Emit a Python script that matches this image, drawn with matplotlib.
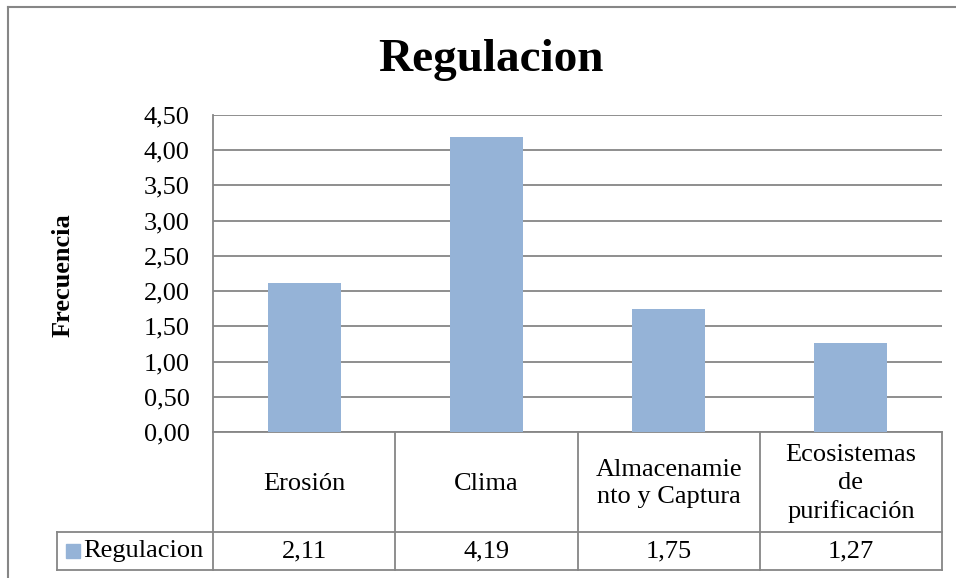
import matplotlib
matplotlib.use("Agg")
import matplotlib.pyplot as plt
from matplotlib.lines import Line2D
from matplotlib.patches import Rectangle

categories = ["Erosión", "Clima", "Almacenamie\nnto y Captura", "Ecosistemas\nde\npurificación"]
values = [2.11, 4.19, 1.75, 1.27]
value_labels = ["2,11", "4,19", "1,75", "1,27"]
series_name = "Regulacion"
title = "Regulacion"
ylabel = "Frecuencia"
yticks = [0.0, 0.5, 1.0, 1.5, 2.0, 2.5, 3.0, 3.5, 4.0, 4.5]

W, H = 956, 578
BAR = "#95B3D7"
GRID = "#868686"
FONT = "Liberation Serif"
FS = 19

fig = plt.figure(figsize=(W / 100, H / 100), dpi=100)
plt.rcParams['font.family'] = [FONT, 'DejaVu Serif']

def fx(px):
    return px / W

def fy(py):
    return 1 - py / H

# plot area in pixels
L, R, T, B = 213, 942, 115, 432
ax = fig.add_axes([fx(L), fy(B), fx(R - L), (B - T) / H])
ax.bar(range(len(values)), values, width=0.4, color=BAR, zorder=3)
ax.set_xlim(-0.5, len(values) - 0.5)
ax.set_ylim(0, 4.5)
ax.set_yticks(yticks)
ax.set_yticklabels([f"{t:.2f}".replace(".", ",") for t in yticks], fontsize=FS, family=FONT)
ax.tick_params(axis="y", length=0, pad=17)
ax.set_xticks([])
ax.grid(axis="y", color=GRID, linewidth=1.3, zorder=0)
for s in ["top", "right", "bottom"]:
    ax.spines[s].set_visible(False)
ax.spines["left"].set_color(GRID)
ax.spines["left"].set_linewidth(1.3)

# table (x in data coords, y in axes fraction)
tr = ax.get_xaxis_transform()
px_per_cat = (R - L) / len(values)
def ay(py):
    return (B - py) / (B - T)

row1_b = ay(532)
row2_b = ay(570)
leg_left = -0.5 - (L - 57) / px_per_cat
n = len(values)
lines = []
lines.append(([-0.5, n - 0.5], [0, 0]))
lines.append(([leg_left, n - 0.5], [row1_b, row1_b]))
lines.append(([leg_left, n - 0.5], [row2_b, row2_b]))
lines.append(([leg_left, leg_left], [row1_b, row2_b]))
for k in range(n + 1):
    lines.append(([k - 0.5, k - 0.5], [0, row2_b]))
for xs, ys in lines:
    ax.add_line(Line2D(xs, ys, transform=tr, color=GRID, linewidth=1.3, clip_on=False))

for i, (c, v) in enumerate(zip(categories, value_labels)):
    ax.text(i, (0 + row1_b) / 2 - 0.005, c, transform=tr, ha="center", va="center",
            fontsize=FS, family=FONT, linespacing=1.32, clip_on=False)
    ax.text(i, (row1_b + row2_b) / 2, v, transform=tr, ha="center", va="center",
            fontsize=FS, family=FONT, clip_on=False)

# legend key in the table
sq = 14 / px_per_cat
x0 = leg_left + 9 / px_per_cat
ymid = (row1_b + row2_b) / 2
sh = 14 / (B - T)
ax.add_patch(Rectangle((x0, ymid - sh / 2), sq, sh, transform=tr, color=BAR, clip_on=False))
ax.text(x0 + sq + 3 / px_per_cat, ymid, series_name, transform=tr, ha="left", va="center",
        fontsize=FS, family=FONT, clip_on=False)

# title and y label
fig.text(fx(491), fy(60), title, ha="center", va="center", fontsize=34, fontweight="bold", family=FONT)
fig.text(fx(63), fy(275), ylabel, ha="center", va="center", rotation=90, fontsize=FS, fontweight="bold", family=FONT)

# outer chart frame (top and left visible)
fig.add_artist(Line2D([fx(8), fx(8)], [fy(7), 0], transform=fig.transFigure, color=GRID, linewidth=1.5))
fig.add_artist(Line2D([fx(8), 1], [fy(7), fy(7)], transform=fig.transFigure, color=GRID, linewidth=1.5))

fig.savefig("out.png", dpi=100)
